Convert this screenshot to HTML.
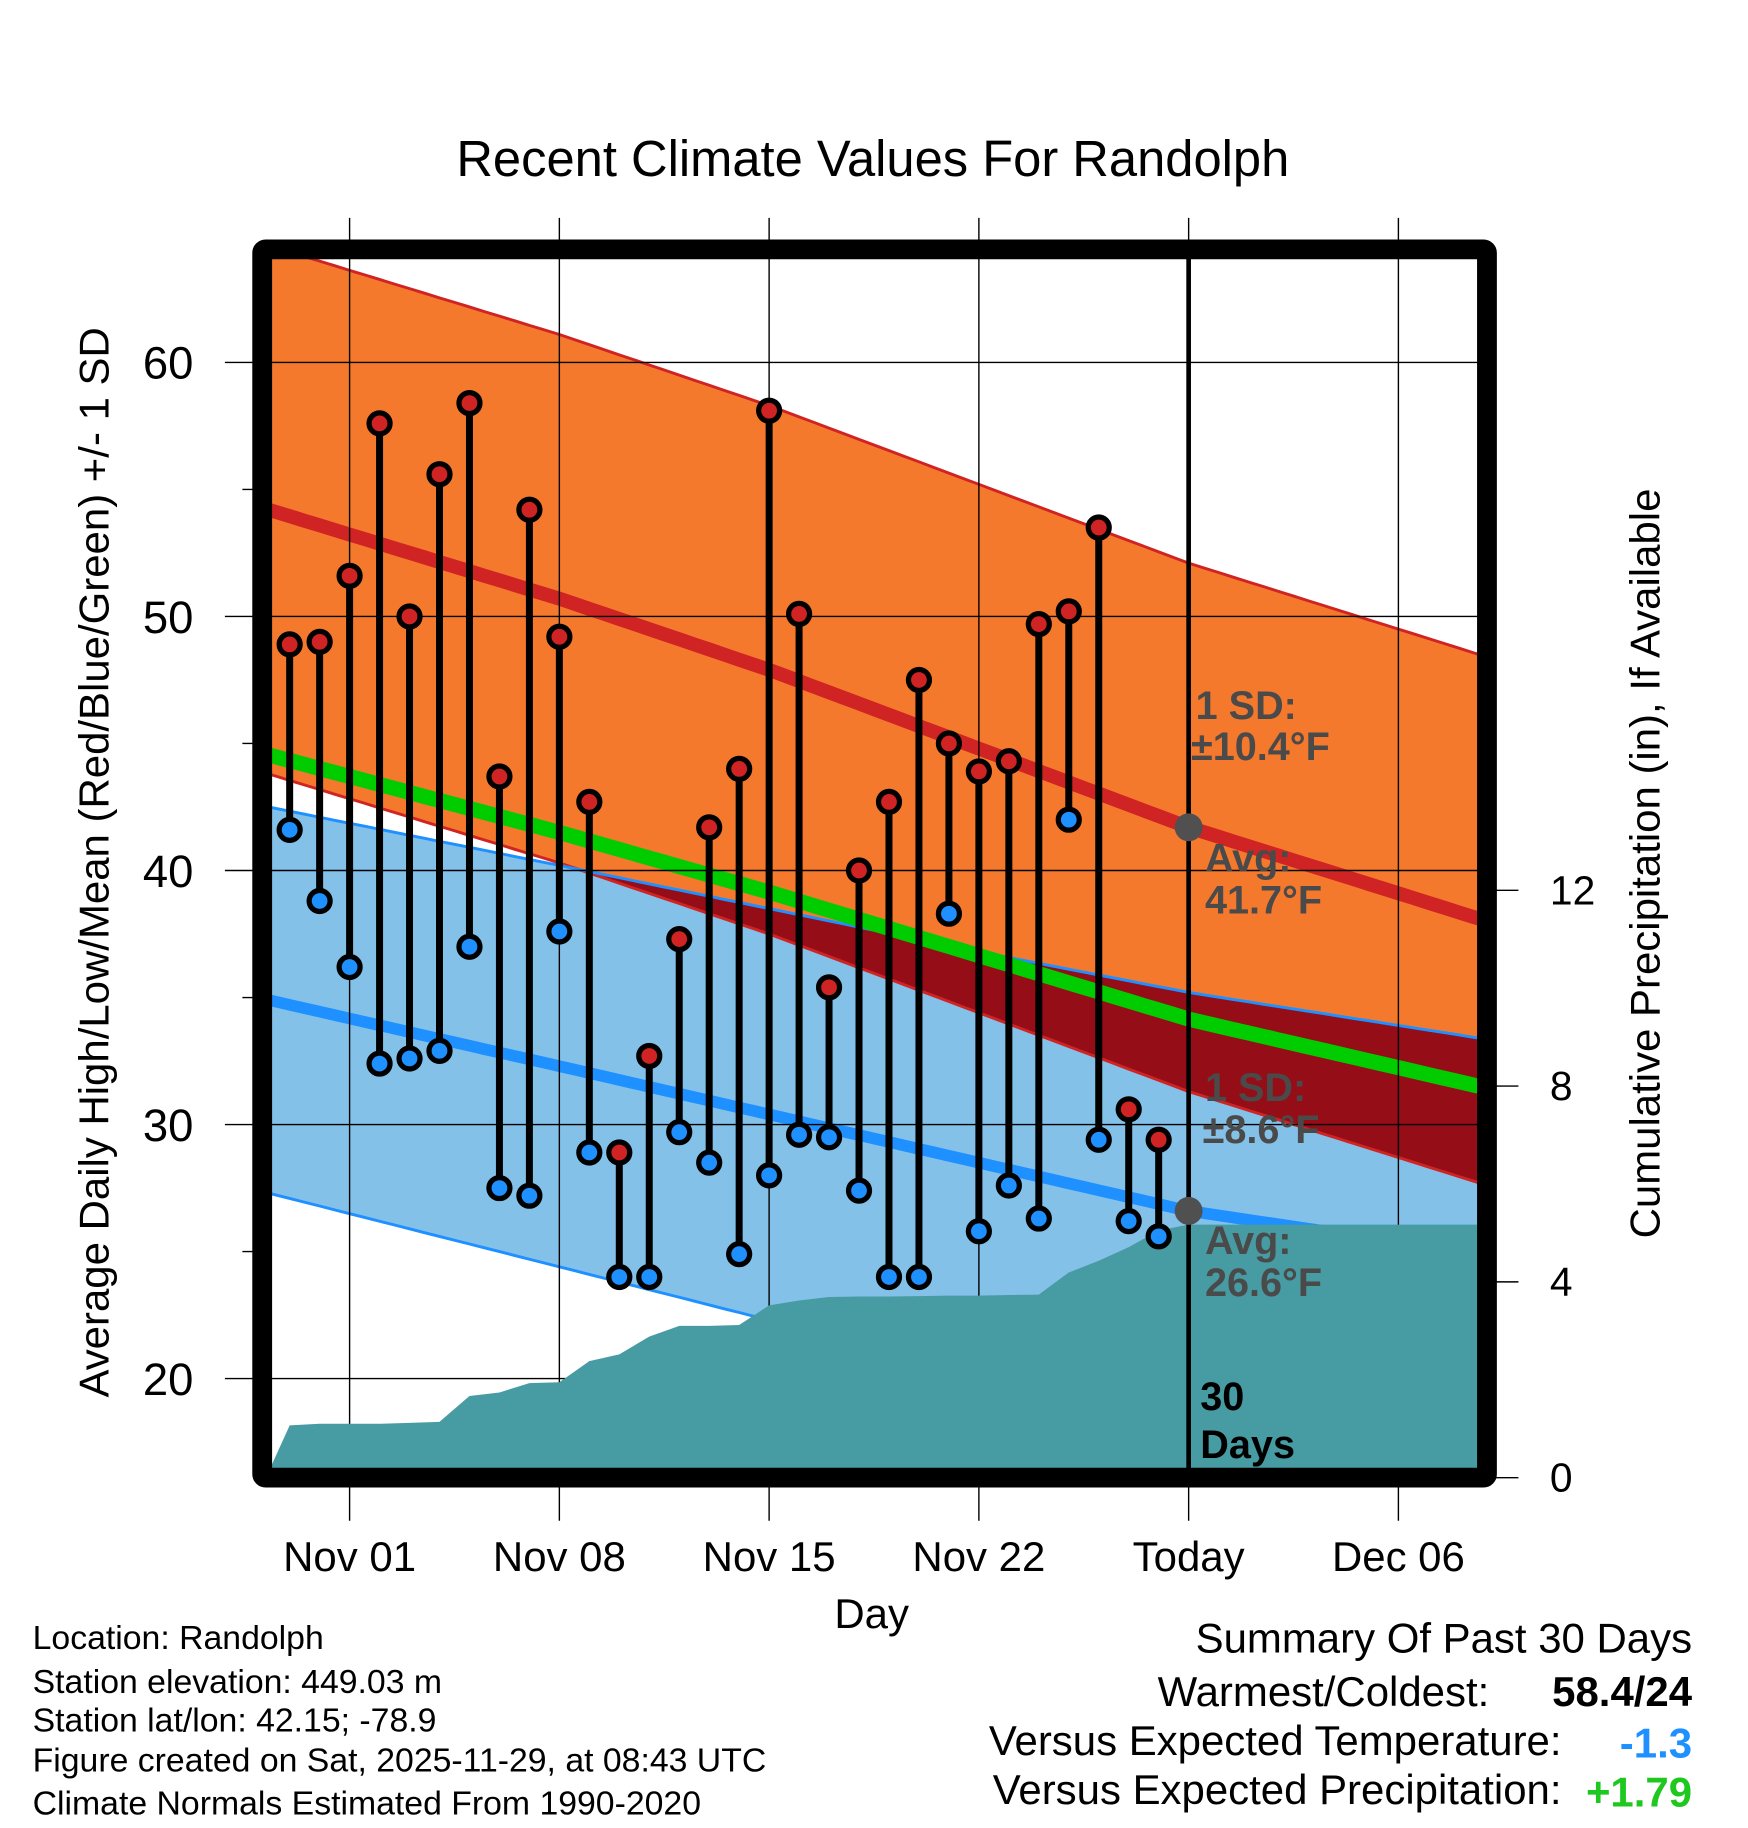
<!DOCTYPE html>
<html><head><meta charset="utf-8"><style>
html,body{margin:0;padding:0;background:#fff}
svg{display:block;font-family:"Liberation Sans",Arial,sans-serif}
</style></head><body>
<svg id="chart" width="1748" height="1828" viewBox="0 0 1500 1568.65" xmlns="http://www.w3.org/2000/svg">
<defs>
<clipPath id="plotClip"><rect x="232" y="222" width="1036" height="1039"/></clipPath>
<clipPath id="highBandClip"><path id="highBandClipPath" d=""/></clipPath>
</defs>
<g id="plot" clip-path="url(#plotClip)"></g>
<g id="overlay"></g>
</svg>
<script>
// ---- data ----
const dayLabels = ["Nov 01","Nov 08","Nov 15","Nov 22","Today","Dec 06"];
const dayLabelDays = [1,8,15,22,29,36];
const obsDays = [-1,0,1,2,3,4,5,6,7,8,9,10,11,12,13,14,15,16,17,18,19,20,21,22,23,24,25,26,27,28];
const highs = [48.9,49.0,51.6,57.6,50.0,55.6,58.4,43.7,54.2,49.2,42.7,28.9,32.7,37.3,41.7,44.0,58.1,50.1,35.4,40.0,42.7,47.5,45.0,43.9,44.3,49.7,50.2,53.5,30.6,29.4];
const lows = [41.6,38.8,36.2,32.4,32.6,32.9,37.0,27.5,27.2,37.6,28.9,24.0,24.0,29.7,28.5,24.9,28.0,29.6,29.5,27.4,24.0,24.0,38.3,25.8,27.6,26.3,42.0,29.4,26.2,25.6];
const normDays = [-1.7,8,15,22,29,38.7];
const highAvg = [54.2,50.7,47.9,44.8,41.7,38.1];
const highSd = [10.4,10.4,10.4,10.4,10.4,10.4];
const lowAvg = [34.9,32.3,30.4,28.5,26.6,24.9];
const lowSd = [7.6,7.9,8.1,8.3,8.6,8.5];
const precipDays = [-1.7,-1,0,1,2,3,4,5,6,7,8,9,10,11,12,13,14,15,16,17,18,19,20,21,22,23,24,25,26,27,28,29,38.7];
const precipCum = [0.2,1.07,1.1,1.1,1.1,1.12,1.14,1.67,1.74,1.93,1.95,2.38,2.52,2.88,3.1,3.1,3.12,3.52,3.62,3.69,3.7,3.7,3.71,3.72,3.72,3.73,3.74,4.19,4.43,4.71,5.05,5.17,5.17];
const yTicks = [20,30,40,50,60];
const yMinor = [25,35,45,55];
const pTicks = [0,4,8,12];

// ---- scales ----
const X = d => 300 + (d-1)*180/7;
const Y = v => 311 + (60-v)*21.8;
const P = p => 1268 - p*42;
function interp(xs, ys, x){
  for(let i=0;i<xs.length-1;i++){ if(x<=xs[i+1]||i===xs.length-2){const t=(x-xs[i])/(xs[i+1]-xs[i]);return ys[i]+t*(ys[i+1]-ys[i]);} }
}
const NS="http://www.w3.org/2000/svg";
function mk(tag, attrs, parent){const e=document.createElementNS(NS,tag);for(const k in attrs)e.setAttribute(k,attrs[k]);parent.appendChild(e);return e;}
const plot=document.getElementById('plot'), ov=document.getElementById('overlay'), svg=document.getElementById('chart');
const sampleDays=[-2.5];for(let k=-4;k<=80;k++)sampleDays.push(k*0.5);sampleDays.push(40.5);
const f=(fn)=>sampleDays.map(d=>[X(d),fn(d)]);
const hA=d=>interp(normDays,highAvg,d), hS=d=>interp(normDays,highSd,d), lA=d=>interp(normDays,lowAvg,d), lS=d=>interp(normDays,lowSd,d);
const line=pts=>pts.map((p,i)=>(i?'L':'M')+p[0].toFixed(1)+','+p[1].toFixed(1)).join('');
const band=(top,bot)=>line(top)+line(bot.slice().reverse()).replace('M','L')+'Z';
const hiTop=f(d=>Y(hA(d)+hS(d))), hiBot=f(d=>Y(hA(d)-hS(d)));
const loTop=f(d=>Y(lA(d)+lS(d))), loBot=f(d=>Y(lA(d)-lS(d)));
document.getElementById('highBandClipPath').setAttribute('d',band(hiTop,hiBot));

let e;
e=mk('path',{d:band(hiTop,hiBot),fill:'#f5792d'},plot);


e=mk('path',{d:band(loTop,loBot),fill:'#84c1e8'},plot);


e=mk('path',{d:band(loTop,loBot),fill:'#950d16','clip-path':'url(#highBandClip)'},plot);


[[hiTop,'#d02424','high-upper-line'],[hiBot,'#d02424','high-lower-line'],[loTop,'#1e90ff','low-upper-line'],[loBot,'#1e90ff','low-lower-line']].forEach(a=>{
  e=mk('path',{d:line(a[0]),fill:'none',stroke:a[1],'stroke-width':2.5},plot);
  
  
});
e=mk('path',{d:line(f(d=>Y(hA(d)))),fill:'none',stroke:'#d02424','stroke-width':12},plot);


e=mk('path',{d:line(f(d=>Y(lA(d)))),fill:'none',stroke:'#1e90ff','stroke-width':10},plot);


e=mk('path',{d:line(f(d=>Y((hA(d)+lA(d))/2))),fill:'none',stroke:'#00cc00','stroke-width':13},plot);



const grid=mk('g',{},ov);
dayLabelDays.forEach(d=>{e=mk('line',{x1:X(d),x2:X(d),y1:187,y2:1305,stroke:'#000','stroke-width':1.2},grid);
  
  });
yTicks.forEach(v=>{e=mk('line',{x1:193,x2:1276,y1:Y(v),y2:Y(v),stroke:'#000','stroke-width':1.2},grid);
  
  });
yMinor.forEach(v=>{e=mk('line',{x1:208,x2:225,y1:Y(v),y2:Y(v),stroke:'#000','stroke-width':1.2},grid);
  
  });
pTicks.forEach(p=>{e=mk('line',{x1:1276,x2:1303,y1:P(p),y2:P(p),stroke:'#000','stroke-width':1.2},grid);
  
  });

const pp=precipDays.map((d,i)=>[Math.max(232,X(d)),P(precipCum[i])]);
e=mk('path',{d:line(pp)+'L1268,1262L232,1262Z',fill:'#479ba3','clip-path':'url(#plotClip)'},ov);



e=mk('line',{x1:X(29),x2:X(29),y1:222,y2:1262,stroke:'#000','stroke-width':4},ov);



obsDays.forEach((d,i)=>{
  const g=mk('g',{},ov);
  
  
  mk('line',{x1:X(d),x2:X(d),y1:Y(highs[i]),y2:Y(lows[i]),stroke:'#000','stroke-width':6},g);
  e=mk('circle',{cx:X(d),cy:Y(highs[i]),r:9,fill:'#d02424',stroke:'#000','stroke-width':4.5},g);
  
  
  e=mk('circle',{cx:X(d),cy:Y(lows[i]),r:9,fill:'#1e90ff',stroke:'#000','stroke-width':4.5},g);
  
  
});
e=mk('circle',{cx:X(29),cy:Y(hA(29)),r:12,fill:'#505050'},ov);


e=mk('circle',{cx:X(29),cy:Y(lA(29)),r:12,fill:'#505050'},ov);



e=mk('rect',{x:225,y:214,width:1051,height:1054,fill:'none',stroke:'#000','stroke-width':17,rx:3},ov);



function txt(s,x,y,attrs,name){const t=mk('text',Object.assign({x:x,y:y},attrs),ov);t.textContent=s;
  
  return t;}
yTicks.forEach(v=>txt(String(v),166,Y(v)+14,{'font-size':39,'text-anchor':'end'},'y-tick-label'));
pTicks.forEach(p=>txt(String(p),1330,P(p)+12,{'font-size':35,'text-anchor':'start'},'precip-tick-label'));
dayLabels.forEach((s,i)=>txt(s,X(dayLabelDays[i]),1348,{'font-size':36,'text-anchor':'middle'},'x-tick-label'));
</script>
<script>
(function(){
const NS="http://www.w3.org/2000/svg",ov=document.getElementById('overlay');
function t(s,x,y,a,name){const e=document.createElementNS(NS,'text');e.setAttribute('x',x);e.setAttribute('y',y);for(const k in a)e.setAttribute(k,a[k]);e.textContent=s;
 
 ov.appendChild(e);}
const ann={'font-size':34,'font-weight':'bold',fill:'#4a4a4a'};
t('1 SD:',1026,617,ann,'high-sd-label');t('±10.4°F',1022,652,ann,'high-sd-value');
t('Avg:',1034,748,ann,'high-avg-label');t('41.7°F',1034,784,ann,'high-avg-value');
t('1 SD:',1034,945,ann,'low-sd-label');t('±8.6°F',1032,981,ann,'low-sd-value');
t('Avg:',1034,1076,ann,'low-avg-label');t('26.6°F',1034,1112,ann,'low-avg-value');
const bk={'font-size':34,'font-weight':'bold',fill:'#000'};
t('30',1030,1210,bk,'days-count');t('Days',1030,1251,bk,'days-label');
t('Recent Climate Values For Randolph',749,151,{'font-size':43.5,'text-anchor':'middle'},'chart-title');
t('Day',748,1397,{'font-size':36,'text-anchor':'middle'},'x-axis-title');
t('Average Daily High/Low/Mean (Red/Blue/Green) +/- 1 SD',0,0,{'font-size':36,'text-anchor':'middle',transform:'translate(93,740) rotate(-90)'},'y-axis-title');
t('Cumulative Precipitation (in), If Available',0,0,{'font-size':36,'text-anchor':'middle',transform:'translate(1424,741) rotate(-90)'},'precip-axis-title');
const ft={'font-size':29};
t('Location: Randolph',28,1415,ft,'footer-location');
t('Station elevation: 449.03 m',28,1453,ft,'footer-elevation');
t('Station lat/lon: 42.15; -78.9',28,1486,ft,'footer-latlon');
t('Figure created on Sat, 2025-11-29, at 08:43 UTC',28,1520,ft,'footer-created');
t('Climate Normals Estimated From 1990-2020',28,1557,ft,'footer-normals');
t('Summary Of Past 30 Days',1452,1418,{'font-size':36,'text-anchor':'end'},'summary-title');
t('Warmest/Coldest:',1278,1464,{'font-size':36,'text-anchor':'end'},'warmest-coldest-label');
t('58.4/24',1452,1464,{'font-size':36,'font-weight':'bold','text-anchor':'end'},'warmest-coldest-value');
t('Versus Expected Temperature:',1340,1506,{'font-size':36,'text-anchor':'end'},'temp-anomaly-label');
t('-1.3',1452,1508,{'font-size':36,'font-weight':'bold','text-anchor':'end',fill:'#1e90ff'},'temp-anomaly-value');
t('Versus Expected Precipitation:',1340,1548,{'font-size':36,'text-anchor':'end'},'precip-anomaly-label');
t('+1.79',1452,1550,{'font-size':36,'font-weight':'bold','text-anchor':'end',fill:'#1ec81e'},'precip-anomaly-value');
})();
</script>
</body></html>
